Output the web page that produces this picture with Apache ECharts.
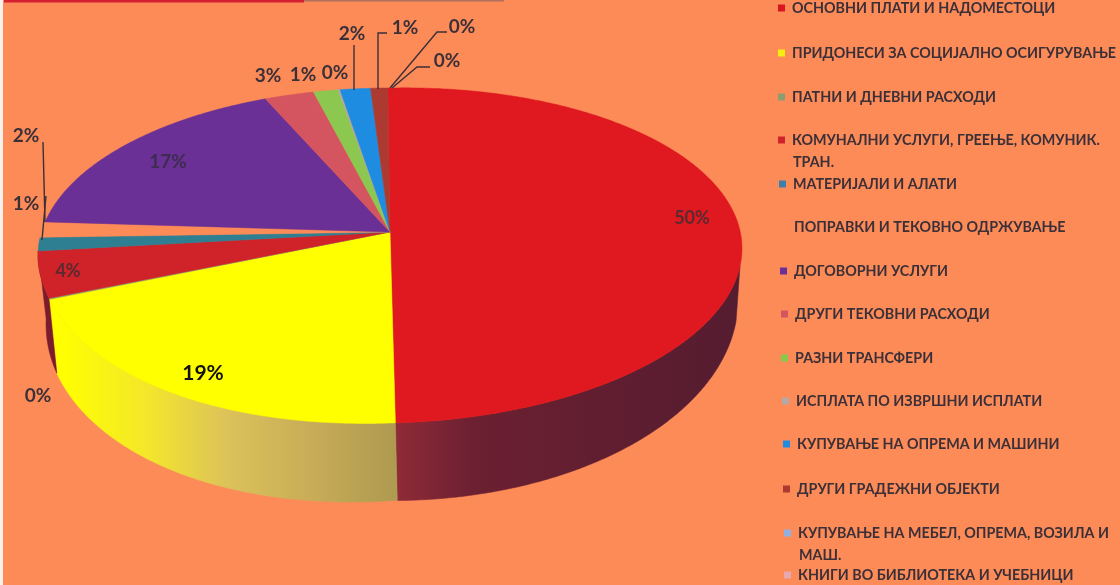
<!DOCTYPE html>
<html>
<head>
<meta charset="utf-8">
<style>html,body{margin:0;padding:0;background:#fff}#c{width:1120px;height:585px}</style>
<script src="https://cdn.jsdelivr.net/npm/echarts@6/dist/echarts.min.js"></script>
</head>
<body>
<div id="c"></div>
<script>
// ---- data ----
const categories = [
  'ОСНОВНИ ПЛАТИ И НАДОМЕСТОЦИ',
  'ПРИДОНЕСИ ЗА СОЦИЈАЛНО ОСИГУРУВАЊЕ',
  'ПАТНИ И ДНЕВНИ РАСХОДИ',
  'КОМУНАЛНИ УСЛУГИ, ГРЕЕЊЕ, КОМУНИК.\nТРАН.',
  'МАТЕРИЈАЛИ И АЛАТИ',
  'ПОПРАВКИ И ТЕКОВНО ОДРЖУВАЊЕ',
  'ДОГОВОРНИ УСЛУГИ',
  'ДРУГИ ТЕКОВНИ РАСХОДИ',
  'РАЗНИ ТРАНСФЕРИ',
  'ИСПЛАТА ПО ИЗВРШНИ ИСПЛАТИ',
  'КУПУВАЊЕ НА ОПРЕМА И МАШИНИ',
  'ДРУГИ ГРАДЕЖНИ ОБЈЕКТИ',
  'КУПУВАЊЕ НА МЕБЕЛ, ОПРЕМА, ВОЗИЛА И\nМАШ.',
  'КНИГИ ВО БИБЛИОТЕКА И УЧЕБНИЦИ'
];
const values = [49.9, 19, 0.1, 4.3, 1.3, 1.5, 17.4, 2.6, 1.3, 0.1, 1.6, 0.9, 0, 0];

// ---- styling ----
const BG = '#fd8b58';
const colors = ['#e0181f', '#ffff00', '#8a9c70', '#cf2229', '#2f7f92', BG, '#6b3096',
                '#d4555f', '#8cc850', '#b5a8a8', '#1e8ce0', '#ad3a30', '#8fb0e0', '#e8a8b0'];
const legendColors = ['#d8141e', '#f6ee10', '#8a9c70', '#cf2229', '#3a80a8', BG, '#6b3096',
                '#d4555f', '#86c94a', '#b5a8a8', '#1e8ce0', '#ad3a30', '#8fb0e0', '#e8a8b0'];
const legendTops = [7, 52, 96, 139, 183, 226, 270, 313, 357, 400, 443, 488, 532, 574];
const legendLefts = [778, 778, 778, 778, 779, 780, 780, 781, 781, 782, 783, 783, 784, 784];
const TEXT = '#3b3038';
const FONT = 'Lato, "Noto Sans", sans-serif';

// Perspective disc: fitted to the reference outline
const G = {cx: 390, cy: 232, R: 348.5, a: 131.65, c: -0.1403, tilt: -0.02, tiltL: 0.05,
           yc: 255.5, rx: 352, ry: 167, bx: 392, brx: 346, by: 300, bry: 200,
           rot: -0.4, wallFrom: 104, wallTo: 264};
function rim(deg) {
  const t = deg * Math.PI / 180, u = Math.sin(t), v = -Math.cos(t), w = 1 + G.c * v;
  const x = G.cx + G.R * u / w, y0 = (G.a * v + G.cy) / w;
  const dy = x > G.cx ? G.tilt * (x - G.cx) : G.tiltL * (G.cx - x) * Math.max(0, v - 0.3);
  return {x, y0, y: y0 + dy};
}
function base(deg) {
  const p = rim(deg), s = (p.x - G.cx) / G.rx, k = (p.y0 - G.yc) / G.ry;
  const X = G.bx + G.brx * s;
  return [X, G.by + G.bry * k + (s < 0 ? 0.07 * (G.bx - X) : 0)];
}
const total = values.reduce((a, b) => a + b, 0);
const starts = [];
values.reduce((acc, v, i) => (starts[i] = acc, acc + v), 0);
const angle = v => G.rot + v / total * 360;

const wallFills = {
  0: new echarts.graphic.LinearGradient(397, 0, 740, 0, [
    {offset: 0, color: '#8f2a38'}, {offset: .22, color: '#6c2031'}, {offset: 1, color: '#551c30'}], true),
  1: new echarts.graphic.LinearGradient(60, 0, 395, 0, [
    {offset: 0, color: '#ffff00'}, {offset: .25, color: '#f4e828'}, {offset: .5, color: '#dcc25a'},
    {offset: .75, color: '#c8ac58'}, {offset: 1, color: '#ae9a50'}], true),
  3: '#7a1c2c'
};

function arc(a0, a1, fn) {
  const n = Math.max(2, Math.ceil((a1 - a0) / 0.5)), pts = [];
  for (let i = 0; i <= n; i++) pts.push(fn(a0 + (a1 - a0) * i / n));
  return pts;
}
const seriesFor = i => ({
  type: 'custom', name: categories[i], coordinateSystem: 'none', silent: true,
  itemStyle: {color: legendColors[i]},
  data: [[values[i]]],
  renderItem: function () {
    const a0 = angle(starts[i]), a1 = angle(starts[i] + values[i]), kids = [];
    const w0 = Math.max(a0, G.wallFrom), w1 = Math.min(a1, G.wallTo);
    if (w1 > w0 && wallFills[i]) {
      const top = arc(w0, w1, d => { const p = rim(d); return [p.x, p.y]; });
      const bot = arc(w0, w1, base).reverse();
      kids.push({type: 'polygon', z2: 1, shape: {points: top.concat(bot)},
                 style: {fill: wallFills[i], stroke: wallFills[i], lineWidth: 0.5}});
    }
    if (a1 > a0) {
      const pts = [[G.cx, G.cy]].concat(arc(a0, a1, d => { const p = rim(d); return [p.x, p.y]; }));
      kids.push({type: 'polygon', z2: 10, shape: {points: pts},
                 style: {fill: colors[i], stroke: colors[i], lineWidth: 0.5}});
    }
    return {type: 'group', children: kids};
  }
});

// percentage labels and their leader lines
const pct = i => Math.round(values[i] / total * 100) + '%';
const labels = [
  [0, 692, 218, 18, '#5a2a30'], [1, 203, 373, 21, '#111'], [2, 38, 396, 19, TEXT],
  [3, 68, 271, 18, '#5a2a30'], [4, 26, 204, 19, TEXT], [5, 26, 136, 19, TEXT],
  [6, 168, 162, 19, '#3d2c50'], [7, 268, 76, 19, TEXT], [8, 303, 75, 19, TEXT],
  [9, 335, 73, 19, TEXT], [10, 352, 34, 19, TEXT], [11, 405, 28, 19, TEXT],
  [12, 462, 27, 19, TEXT], [13, 447, 61, 19, TEXT]
];
const leaders = [
  [[354, 45], [354, 90]],
  [[378, 89], [378, 33], [387, 33]],
  [[390, 88], [437, 32], [447, 32]],
  [[392, 88], [417, 67], [430, 67]],
  [[43, 142], [45, 222]],
  [[42, 240], [46, 196]]
];
const annotate = {
  type: 'custom', name: '_labels', coordinateSystem: 'none', silent: true, data: [[0]],
  renderItem: function () {
    const kids = leaders.map(p => ({type: 'polyline', z2: 15, shape: {points: p},
      style: {fill: null, stroke: '#3b3038', lineWidth: 1.4}}));
    labels.forEach(l => kids.push({type: 'text', z2: 20,
      style: {text: pct(l[0]), x: l[1], y: l[2], fill: l[4], align: 'center', verticalAlign: 'middle',
              font: 'bold ' + l[3] + 'px ' + FONT}}));
    return {type: 'group', children: kids};
  }
};

const firstLine = n => n.split('\n')[0];
const chart = echarts.init(document.getElementById('c'), null, {renderer: 'canvas'});
chart.setOption({
  animation: false,
  backgroundColor: BG,
  graphic: [
    {type: 'rect', left: 0, top: 0, shape: {width: 3, height: 585}, style: {fill: '#f8f0ea'}, z: 1},
    {type: 'rect', left: 4, top: 0, shape: {width: 300, height: 2.5}, style: {fill: '#d42030'}, z: 1},
    {type: 'rect', left: 304, top: 0, shape: {width: 200, height: 1.5}, style: {fill: '#b07060'}, z: 1}
  ].concat(categories.map((n, i) => n.includes('\n') ? {
    type: 'text', left: legendLefts[i] + 15, top: legendTops[i] + 16, z: 5,
    style: {text: n.split('\n')[1], fill: TEXT, font: 'bold 14.3px ' + FONT}
  } : null).filter(Boolean)),
  legend: categories.map((n, i) => ({
    data: [n], orient: 'vertical', left: legendLefts[i], top: legendTops[i] - 6,
    padding: 0, itemWidth: 7, itemHeight: 7, itemGap: 0, selectedMode: false, icon: 'rect',
    formatter: firstLine,
    textStyle: {color: TEXT, fontFamily: FONT, fontWeight: 'bold', fontSize: 14.3, padding: [0, 0, 4, 2]}
  })),
  series: categories.map((_, i) => seriesFor(i)).concat([annotate])
});
</script>
</body>
</html>
